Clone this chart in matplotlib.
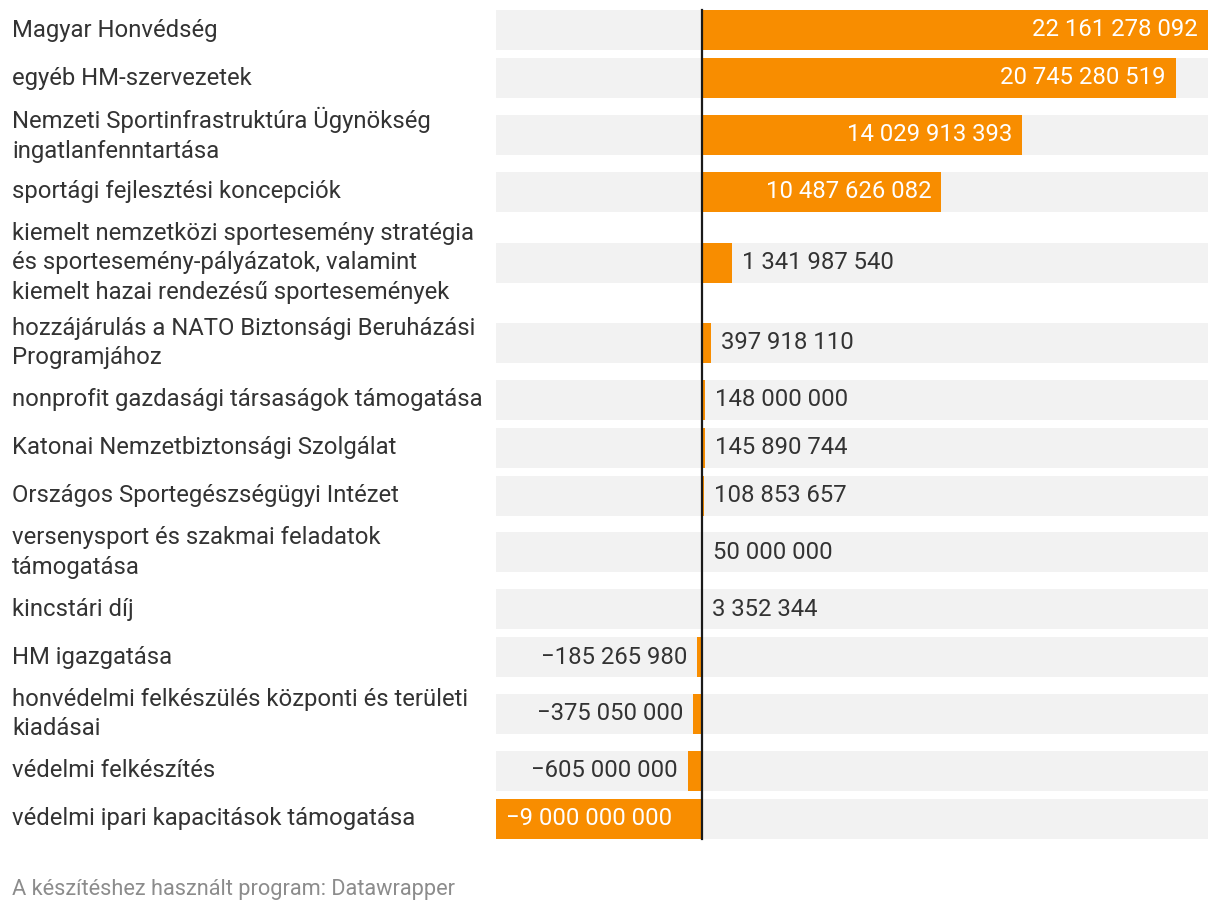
import matplotlib.pyplot as plt
from matplotlib.transforms import blended_transform_factory

plt.rcParams['font.family'] = ['Roboto', 'DejaVu Sans']

categories = [
    'Magyar Honvédség',
    'egyéb HM-szervezetek',
    'Nemzeti Sportinfrastruktúra Ügynökség\ningatlanfenntartása',
    'sportági fejlesztési koncepciók',
    'kiemelt nemzetközi sportesemény stratégia\nés sportesemény-pályázatok, valamint\nkiemelt hazai rendezésű sportesemények',
    'hozzájárulás a NATO Biztonsági Beruházási\nProgramjához',
    'nonprofit gazdasági társaságok támogatása',
    'Katonai Nemzetbiztonsági Szolgálat',
    'Országos Sportegészségügyi Intézet',
    'versenysport és szakmai feladatok\ntámogatása',
    'kincstári díj',
    'HM igazgatása',
    'honvédelmi felkészülés központi és területi\nkiadásai',
    'védelmi felkészítés',
    'védelmi ipari kapacitások támogatása',
]
values = [
    22161278092, 20745280519, 14029913393, 10487626082, 1341987540,
    397918110, 148000000, 145890744, 108853657, 50000000,
    3352344, -185265980, -375050000, -605000000, -9000000000,
]

ORANGE = '#f88d00'
BG = '#f2f2f2'
TEXT = '#333333'
FS = 17.2

W, H = 1220, 916
fig = plt.figure(figsize=(W / 100, H / 100), dpi=100)

# row layout (pixels from top), Datawrapper style
line_h = 28.8
bar_h = 40
gap = 8
centers = []
top = 10
for lab in categories:
    n = lab.count('\n') + 1
    h = max(bar_h, n * line_h)
    centers.append(top + h / 2)
    top += h + gap
bottom = top - gap

xmin, xmax = min(values), max(values)
ax = fig.add_axes([496 / W, 0, (1208 - 496) / W, 1])
ax.set_xlim(xmin, xmax)
ax.set_ylim(H, 0)
ax.axis('off')

for lab, v, yc in zip(categories, values, centers):
    ax.barh(yc, xmax - xmin, left=xmin, height=bar_h, color=BG, zorder=1)
    ax.barh(yc, v, height=bar_h, color=ORANGE, zorder=2)
    txt = f'{abs(v):,}'.replace(',', ' ')
    if v < 0:
        txt = '\u2212' + txt
    inside = abs(v) > 5e9
    sign = 1 if v >= 0 else -1
    if inside:
        off, ha, col = -10 * sign, ('right' if v >= 0 else 'left'), 'white'
    else:
        off, ha, col = 10 * sign, ('left' if v >= 0 else 'right'), TEXT
    ax.annotate(txt, (v, yc), xytext=(off, 0), textcoords='offset pixels',
                ha=ha, va='center', color=col, fontsize=FS, zorder=3)

ax.plot([0, 0], [10, bottom], color='#1a1a1a', lw=1.6, zorder=4)

trans = blended_transform_factory(fig.transFigure, ax.transData)
for lab, yc in zip(categories, centers):
    fig.text(12 / W, yc, lab, transform=trans, ha='left', va='center',
             color=TEXT, fontsize=FS, linespacing=1.35)

fig.text(12 / W, 1 - 890 / H, 'A készítéshez használt program: Datawrapper',
         ha='left', va='center', color='#8c8c8c', fontsize=15.7)

fig.savefig('out.png', dpi=100, facecolor='white')
